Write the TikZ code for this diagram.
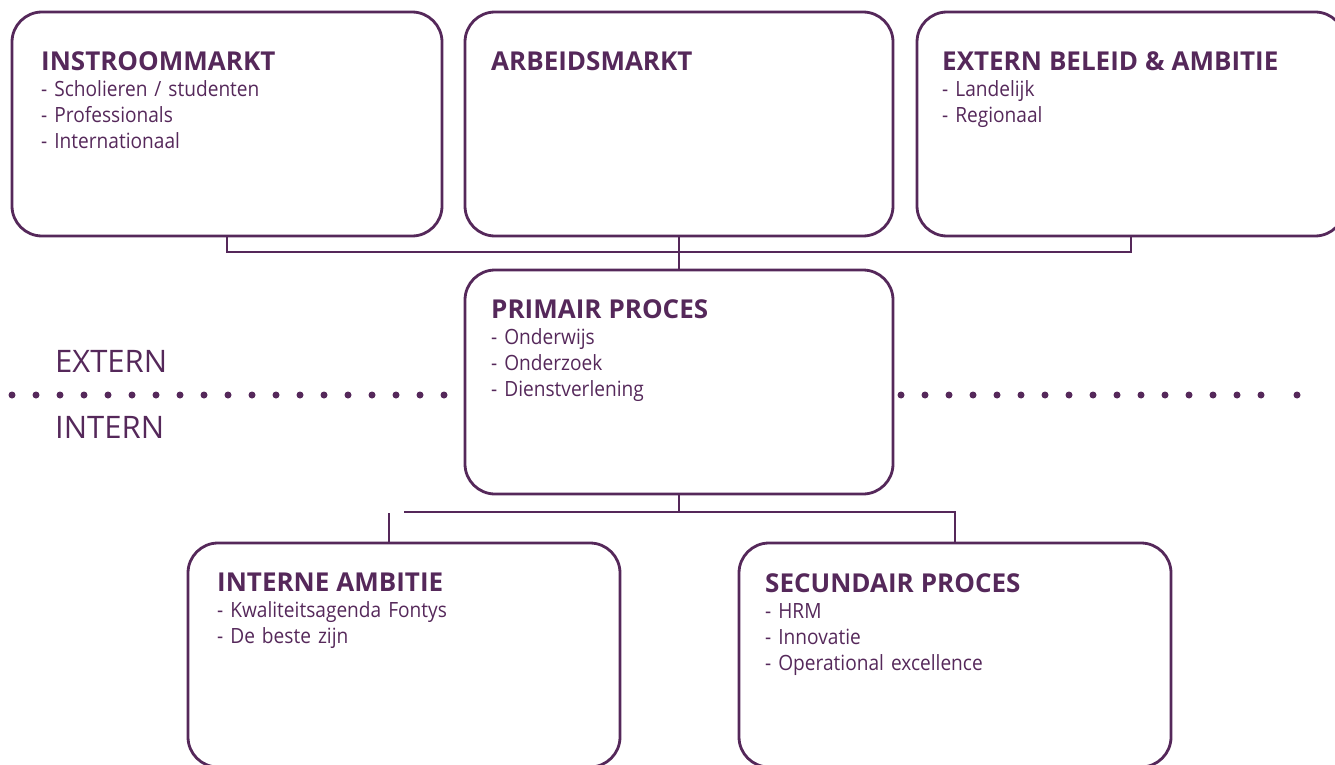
\documentclass[tikz,border=0pt]{standalone}
\usepackage{fontspec}
\setmainfont{Open Sans}
\newfontfamily\smalfont[FakeStretch=0.91]{Open Sans}
\usepackage{tikz}
\usetikzlibrary{positioning}
\definecolor{paars}{RGB}{85,40,90}
\tikzset{	node distance=23pt,
	blok/.style={
		draw=paars,
		line width=2.8pt,
		rounded corners=30pt,
		minimum width=430pt,
		minimum height=224pt,
		inner sep=0pt,
		outer sep=0pt},
	tekst/.style={
		text=paars,
		inner sep=0pt,
		text width=390pt,
		align=left,
		font=\smalfont\fontsize{21}{26}\selectfont},
	lijn/.style={
		draw=paars,
		line width=2.8pt},
	grens/.style={
		text=paars,
		inner sep=0pt,
		anchor=base west,
		font=\fontsize{31}{31}\selectfont},
	stippel/.style={
		draw=paars,
		line width=7pt,
		line cap=round,
		dash pattern=on 0pt off 24pt}
}

\begin{document}
\begin{tikzpicture}[x=1pt, y=-1pt]
				\useasboundingbox (0,0) rectangle (1335,765);
				\node[blok] (inst) at (227,124) {};
				\node[blok, minimum width=428pt, right=23pt of inst] (arb) {};
				\node[blok, minimum width=428pt, right=24pt of arb] (ext) {};
				\node[blok, minimum width=428pt, below=34pt of arb] (prim) {};
				\node[blok, minimum width=432pt] (int) at (404,655) {};
				\node[blok, minimum width=432pt] (sec) at (955,655) {};
				\node[tekst, below right=39pt and 29pt of inst.north west] (instT) {{\normalfont\fontsize{26}{26}\selectfont\bfseries INSTROOMMARKT}\\- Scholieren / studenten\\- Professionals\\- Internationaal};
				\node[tekst, below right=39pt and 26pt of arb.north west] (arbT) {{\normalfont\fontsize{26}{26}\selectfont\bfseries ARBEIDSMARKT}};
				\node[tekst, below right=39pt and 25pt of ext.north west] (extT) {{\normalfont\fontsize{26}{26}\selectfont\bfseries EXTERN BELEID \& AMBITIE}\\- Landelijk\\- Regionaal};
				\node[tekst, below right=29pt and 26pt of prim.north west] (primT) {{\normalfont\fontsize{26}{26}\selectfont\bfseries PRIMAIR PROCES}\\- Onderwijs\\- Onderzoek\\- Dienstverlening};
				\node[tekst, below right=30pt and 29pt of int.north west] (intT) {{\normalfont\fontsize{26}{26}\selectfont\bfseries INTERNE AMBITIE}\\- Kwaliteitsagenda Fontys\\- De beste zijn};
				\node[tekst, below right=30pt and 26pt of sec.north west] (secT) {{\normalfont\fontsize{26}{26}\selectfont\bfseries SECUNDAIR PROCES}\\- HRM\\- Innovatie\\- Operational excellence};
				\node[grens] (extern) at (55,372) {EXTERN};
				\node[grens] (intern) at (55,438) {INTERN};
				\draw[lijn] (inst.south) -- ++(0,16) -| (ext.south);
				\draw[lijn] (arb.south) -- (prim.north);
				\draw[lijn] (prim.south) -- ++(0,18) coordinate (splits);
				\draw[lijn] (sec.north) |- (splits) -- (splits -| int.north);
				\draw[lijn] ([xshift=-15pt]int.north) -- ++(0,-30);
				\draw[stippel] (12,395) -- (450,395);
				\draw[stippel] (901,395) -- (1270,395);
				\fill[paars] (1297,395) circle (3.5pt);
			\end{tikzpicture}
\end{document}
